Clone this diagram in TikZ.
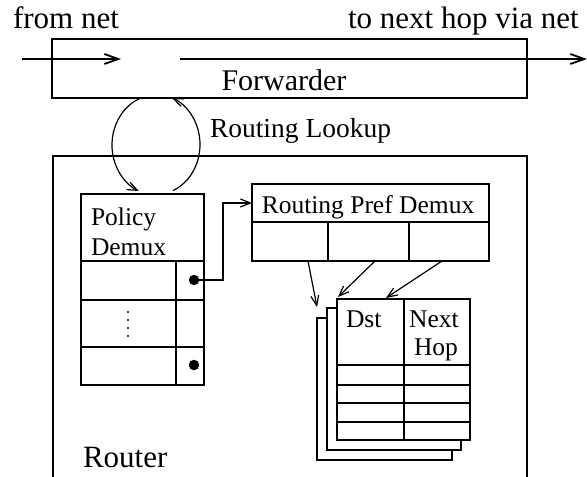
\documentclass[tikz,border=0pt]{standalone}
\usepackage{fontspec}
\setmainfont{Liberation Serif}
\usetikzlibrary{arrows.meta,calc}
\begin{document}
\begin{tikzpicture}[x=1pt,y=-1pt,
  box/.style={draw, line width=1.3pt, inner sep=0pt, outer sep=0pt, anchor=north west},
  page/.style={box, fill=white},
  big/.style={font=\fontsize{31}{31}\selectfont, inner sep=0pt, outer sep=0pt},
  fwdfont/.style={font=\fontsize{30}{30}\selectfont, inner sep=0pt, outer sep=0pt},
  mid/.style={font=\fontsize{27.5}{27.5}\selectfont, inner sep=0pt, outer sep=0pt},
  small/.style={font=\fontsize{25.5}{25.5}\selectfont, inner sep=0pt, outer sep=0pt},
  thin/.style={line width=1.3pt},
  arr/.style={line width=1.2pt, -{Straight Barb[length=10pt,width=8pt,line width=1.2pt]}},
  fwdarr/.style={line width=1.8pt, -{Straight Barb[length=14pt,width=10pt,line width=1.8pt]}},
  dotnode/.style={circle, fill=black, minimum size=10.5pt, inner sep=0pt, outer sep=0pt}
]
\useasboundingbox (0,0) rectangle (587,477);

% labels on top
\node[big, anchor=base west] (fromnet) at (13,28) {from net};
\node[big, anchor=base west] (tonext) at (348,28) {to next hop via net};

% Forwarder
\node[box, minimum width=475pt, minimum height=59pt] (fwd) at (52,39) {};
\node[fwdfont, anchor=base] (fwdtxt) at (284,90) {Forwarder};
\coordinate (inA) at (22,59);
\coordinate (inB) at (121,59);
\coordinate (outA) at (180,59);
\coordinate (outB) at (587,59);
\draw[fwdarr] (inA) -- (inB);
\draw[fwdarr] (outA) -- (outB);

% Router outline (open at bottom)
\coordinate (rbl) at (53,477);
\coordinate (rbr) at (527,477);
\draw[thin] (rbl) -- (53,156) -- (527,156) -- (rbr);
\node[big, anchor=base west] (rtrtxt) at (83,467) {Router};

% Routing lookup loop
\node[mid, anchor=base west] (lookup) at (210,137) {Routing Lookup};
\coordinate (lkL) at (140,98.4);
\coordinate (lkR) at (173,190.6);
\draw[arr] (lkL) arc[start angle=248.7, end angle=113, x radius=44, y radius=50];
\draw[arr] (lkR) arc[start angle=67.3, end angle=-68.7, x radius=44, y radius=50];

% Policy Demux
\node[box, minimum width=123pt, minimum height=191pt] (pol) at (81,194) {};
\node[small, anchor=base west] (poltxt1) at (91,225) {Policy};
\node[small, anchor=base west] (poltxt2) at (91,255) {Demux};
\draw[thin] (81,261) -- (204,261);
\draw[thin] (81,300) -- (204,300);
\draw[thin] (81,347) -- (204,347);
\draw[thin] (176,261) -- (176,385);
\foreach \yy in {312,320,328,336} \fill (128,\yy) circle[radius=1.1];
\node[dotnode] (d1) at (194,280) {};
\node[dotnode] (d2) at (194,365) {};

% Routing Pref Demux
\node[box, minimum width=237pt, minimum height=38pt] (rph) at (252,184) {};
\node[small, anchor=base] (rphtxt) at (368,213) {Routing Pref Demux};
\node[box, minimum width=76pt, minimum height=39pt] (c1) at (252,222) {};
\node[box, minimum width=81pt, minimum height=39pt] (c2) at (328,222) {};
\node[box, minimum width=80pt, minimum height=39pt] (c3) at (409,222) {};

\draw[arr] (d1.center) -- ++(29,0) |- (rph.west);

% stacked routing tables
\node[page, minimum width=135pt, minimum height=142pt] (p3) at (317,318) {};
\node[page, minimum width=134pt, minimum height=142pt] (p2) at (327,308) {};
\node[page, minimum width=133pt, minimum height=141pt] (p1) at (337,299) {};
\draw[thin] (404,299) -- (404,440);
\draw[thin] (337,365) -- (470,365);
\draw[thin] (337,385) -- (470,385);
\draw[thin] (337,403) -- (470,403);
\draw[thin] (337,422) -- (470,422);
\node[small, anchor=base west] (dst) at (346,327) {Dst};
\node[small, anchor=base] (nxt) at (434,327) {Next};
\node[small, anchor=base] (hop) at (436,355) {Hop};

\draw[arr] ([xshift=18pt]c1.south) -- ($(p3.north west)+(0,-11)$);
\draw[arr] ([xshift=6.5pt]c2.south) -- ($(p1.north west)+(1,-2)$);
\draw[arr] ([xshift=-7pt]c3.south) -- ($(p1.north west)+(49,-1)$);
\end{tikzpicture}
\end{document}
